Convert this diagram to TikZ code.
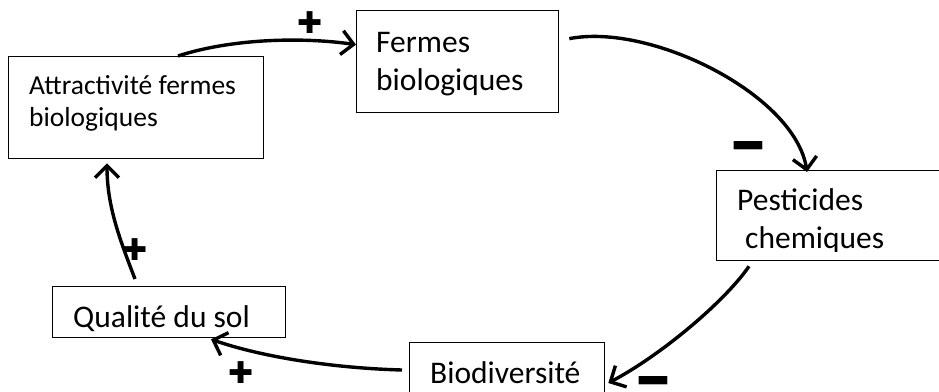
\documentclass[tikz,border=0pt]{standalone}
\usepackage{fontspec}
\setmainfont{Carlito}
\newfontfamily\signfont{DejaVu Sans}
\usetikzlibrary{arrows.meta,calc}
\begin{document}
\begin{tikzpicture}[x=1pt,y=-1pt,
  box/.style={draw=black, line width=1.3pt, rectangle, inner sep=0pt, anchor=north west},
  lbl/.style={anchor=base west, inner sep=0pt, align=left, font=\fontsize{31.5}{38}\selectfont},
  lblsmall/.style={lbl, font=\fontsize{27.5}{32}\selectfont},
  link/.style={line width=3.4pt, -{Straight Barb[length=12pt,width=24pt]}},
  plussign/.style={inner sep=0pt, font=\signfont\fontsize{30}{30}\selectfont},
  minussign/.style={inner sep=0pt, font=\signfont\fontsize{30}{30}\selectfont}
]
\useasboundingbox (0,0) rectangle (939,391);
\clip (0,0) rectangle (939,391);

% boxes
\node[box, minimum width=255pt, minimum height=102pt] (attr) at (8,56) {};
\node[box, minimum width=202pt, minimum height=102pt] (ferm) at (356,10) {};
\node[box, minimum width=240pt, minimum height=90pt]  (pest) at (716,170) {};
\node[box, minimum width=195pt, minimum height=70pt]  (bio)  at (409,342) {};
\node[box, minimum width=233pt, minimum height=51pt]  (qual) at (52,286) {};

% labels (anchored at the baseline of their last line)
\node[lblsmall] (attrtext) at (29,126) {Attractivité fermes\\biologiques};
\node[lbl] (fermtext) at (376,90) {Fermes\\biologiques};
\begin{scope}
  \clip (716,170) rectangle (939,251);
  \node[lbl] (pesttext) at (737,248) {Pesticides\\\hspace*{8pt}chemiques};
\end{scope}
\node[lbl] (biotext) at (430,383) {Biodiversité};
\node[lbl] (qualtext) at (73,327) {Qualité du sol};

% causal links
\draw[link] ([xshift=170pt]attr.north west)
  .. controls +(52,-17) and +(-56,-8) .. ([yshift=17pt]ferm.west);
\draw[link] ([xshift=10pt,yshift=23pt]ferm.east)
  .. controls +(82,-16) and +(-12,-77) .. ([xshift=91pt,yshift=-2pt]pest.north west);
\draw[link] ([xshift=33pt,yshift=-5pt]pest.south west)
  .. controls +(-24,35) and +(53,-28) .. ([xshift=3pt,yshift=-41pt]bio.north east);
\draw[link] ([xshift=-7pt,yshift=-28pt]bio.north west)
  .. controls +(-72,-2) and +(49,17) .. ([xshift=159pt,yshift=-1pt]qual.south west);
\draw[link] ([xshift=83pt,yshift=7pt]qual.north west)
  .. controls +(-15,-39) and +(0,43) .. ([xshift=99pt,yshift=-4pt]attr.south west);

% polarity signs
\node[plussign] (p1) at (310,23) {✚};
\node[minussign] (m1) at (748,146) {\scalebox{1.25}[0.75]{▬}};
\node[minussign] (m2) at (653,381) {\scalebox{1.25}[0.75]{▬}};
\node[plussign] (p2) at (241,373) {✚};
\node[plussign] (p3) at (135,250) {✚};
\end{tikzpicture}
\end{document}
